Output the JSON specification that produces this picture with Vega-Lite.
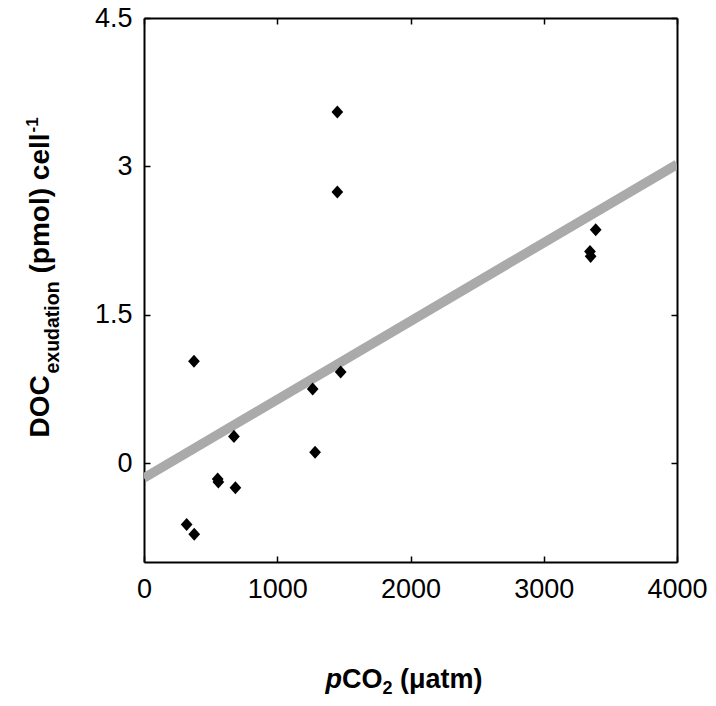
{
  "$schema": "https://vega.github.io/schema/vega-lite/v6.json",
  "width": 533,
  "height": 544,
  "autosize": {"type": "none"},
  "padding": {"left": 144, "top": 18, "right": 39, "bottom": 144},
  "background": "white",
  "datasets": {
    "pts": [
      {"pco2": 320, "doc": -0.62},
      {"pco2": 377, "doc": -0.72},
      {"pco2": 375, "doc": 1.03},
      {"pco2": 553, "doc": -0.16},
      {"pco2": 558, "doc": -0.19},
      {"pco2": 675, "doc": 0.27},
      {"pco2": 686, "doc": -0.25},
      {"pco2": 1266, "doc": 0.75},
      {"pco2": 1284, "doc": 0.11},
      {"pco2": 1451, "doc": 3.55},
      {"pco2": 1451, "doc": 2.74},
      {"pco2": 1476, "doc": 0.92},
      {"pco2": 3347, "doc": 2.14},
      {"pco2": 3352, "doc": 2.09},
      {"pco2": 3390, "doc": 2.36}
    ],
    "fit": [
      {"pco2": 0, "doc": -0.15},
      {"pco2": 4000, "doc": 3.02}
    ]
  },
  "resolve": {"axis": {"x": "independent", "y": "independent"}},
  "layer": [
    {
      "data": {"name": "fit"},
      "mark": {"type": "line", "color": "#aaaaaa", "strokeWidth": 9.5, "clip": true},
      "encoding": {
        "x": {"field": "pco2", "type": "quantitative", "scale": {"domain": [0, 4000], "nice": false, "zero": false},
          "axis": {"orient": "top", "values": [0, 1000, 2000, 3000, 4000], "labels": false, "title": null, "tickSize": -6, "tickWidth": 1.5, "domainWidth": 2}},
        "y": {"field": "doc", "type": "quantitative", "scale": {"domain": [-1, 4.5], "nice": false, "zero": false},
          "axis": {"orient": "right", "values": [0, 1.5, 3, 4.5], "labels": false, "title": null, "tickSize": -6, "tickWidth": 1.5, "domainWidth": 2}}
      }
    },
    {
      "data": {"name": "pts"},
      "mark": {"type": "point", "shape": "M-0.9,0L0,-1L0.9,0L0,1Z", "filled": true, "color": "black", "opacity": 1, "size": 170},
      "encoding": {
        "x": {"field": "pco2", "type": "quantitative",
          "axis": {"orient": "bottom", "values": [0, 1000, 2000, 3000, 4000], "labelExpr": "'' + datum.value", "labelFlush": false, "labelFontSize": 27, "labelPadding": 20, "tickSize": -6, "tickWidth": 1.5, "domainWidth": 2,
            "title": "p", "titleFontSize": 27, "titleFontWeight": "bold", "titleFontStyle": "italic", "titleX": 181, "titleY": 125, "titleAlign": "left", "titleBaseline": "alphabetic", "titleAngle": 0}},
        "y": {"field": "doc", "type": "quantitative",
          "axis": {"orient": "left", "values": [0, 1.5, 3, 4.5], "labelExpr": "'' + datum.value", "labelFlush": false, "labelFontSize": 27, "labelPadding": 18, "tickSize": -6, "tickWidth": 1.5, "domainWidth": 2,
            "title": "DOC", "titleFontSize": 28, "titleFontWeight": "bold", "titleX": -96, "titleY": 419, "titleAlign": "left", "titleBaseline": "alphabetic", "titleAngle": 270}}
      }
    },
    {
      "data": {"name": "fit"},
      "mark": {"type": "point", "opacity": 0},
      "encoding": {
        "x": {"field": "pco2", "type": "quantitative",
          "axis": {"orient": "bottom", "domain": false, "ticks": false, "labels": false,
            "title": "CO", "titleFontSize": 27, "titleFontWeight": "bold", "titleX": 197.5, "titleY": 125, "titleAlign": "left", "titleBaseline": "alphabetic", "titleAngle": 0}},
        "y": {"field": "doc", "type": "quantitative",
          "axis": {"orient": "left", "domain": false, "ticks": false, "labels": false,
            "title": "exudation", "titleFontSize": 19.5, "titleFontWeight": "bold", "titleX": -86, "titleY": 355, "titleAlign": "left", "titleBaseline": "alphabetic", "titleAngle": 270}}
      }
    },
    {
      "data": {"name": "fit"},
      "mark": {"type": "point", "opacity": 0},
      "encoding": {
        "x": {"field": "pco2", "type": "quantitative",
          "axis": {"orient": "bottom", "domain": false, "ticks": false, "labels": false,
            "title": "2", "titleFontSize": 18, "titleFontWeight": "bold", "titleX": 238, "titleY": 131, "titleAlign": "left", "titleBaseline": "alphabetic", "titleAngle": 0}},
        "y": {"field": "doc", "type": "quantitative",
          "axis": {"orient": "left", "domain": false, "ticks": false, "labels": false,
            "title": "(pmol) cell", "titleFontSize": 28, "titleFontWeight": "bold", "titleX": -96, "titleY": 255, "titleAlign": "left", "titleBaseline": "alphabetic", "titleAngle": 270}}
      }
    },
    {
      "data": {"name": "fit"},
      "mark": {"type": "point", "opacity": 0},
      "encoding": {
        "x": {"field": "pco2", "type": "quantitative",
          "axis": {"orient": "bottom", "domain": false, "ticks": false, "labels": false,
            "title": "(μatm)", "titleFontSize": 27, "titleFontWeight": "bold", "titleX": 255.5, "titleY": 125, "titleAlign": "left", "titleBaseline": "alphabetic", "titleAngle": 0}},
        "y": {"field": "doc", "type": "quantitative",
          "axis": {"orient": "left", "domain": false, "ticks": false, "labels": false,
            "title": "-1", "titleFontSize": 17, "titleFontWeight": "bold", "titleX": -107, "titleY": 114, "titleAlign": "left", "titleBaseline": "alphabetic", "titleAngle": 270}}
      }
    }
  ],
  "config": {
    "font": "Liberation Sans",
    "view": {"stroke": null},
    "axis": {"grid": false, "labelFont": "Liberation Sans", "titleFont": "Liberation Sans", "labelColor": "black", "titleColor": "black", "domainColor": "black", "tickColor": "black"}
  }
}
